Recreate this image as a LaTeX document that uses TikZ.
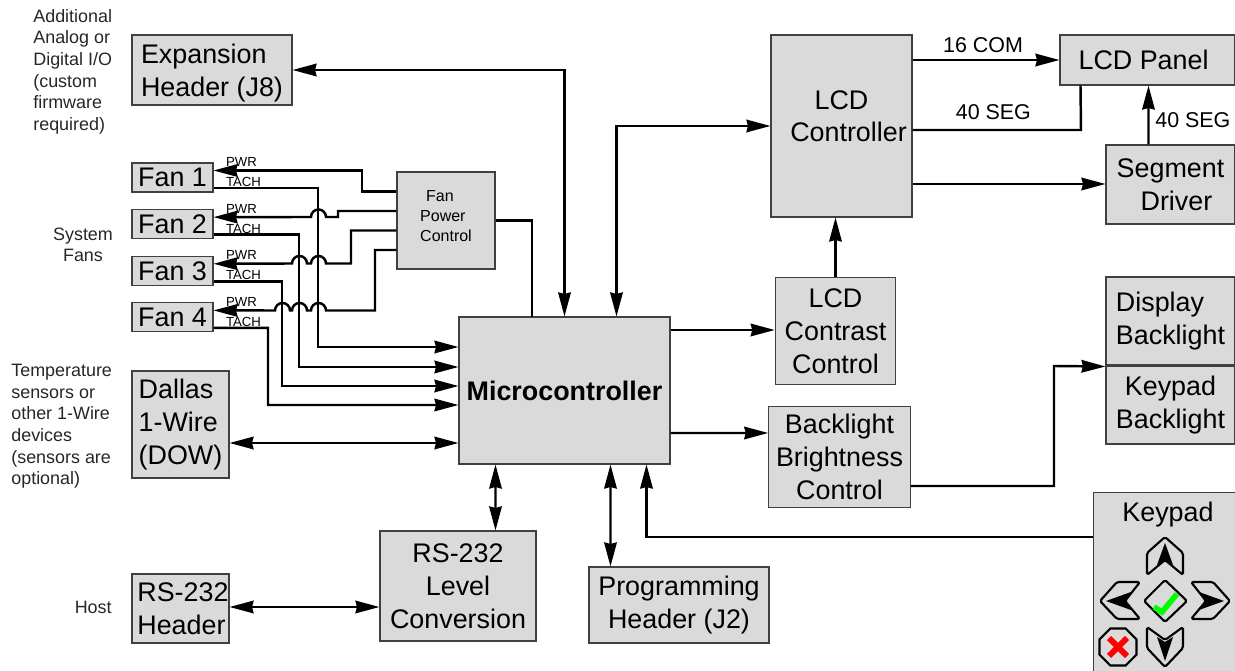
\documentclass[tikz,border=0pt]{standalone}
\usepackage{fontspec}
\setmainfont{Liberation Sans}
\usepackage{xcolor}
\usepackage{tikz}
\usetikzlibrary{positioning, arrows.meta, shapes.geometric, calc}
\definecolor{boxgray}{HTML}{DADADA}
\newcommand{\hop}{arc[start angle=0, end angle=180, radius=0.15cm]}
\tikzstyle{block} = [rectangle, draw=black!75, line width=0.6pt, fill=boxgray, align=center, inner sep=0pt, font=\fontsize{15.3}{18.7}\selectfont]
\tikzstyle{lblock} = [block, align=left]
\tikzstyle{fan} = [lblock, minimum width=1.62cm, minimum height=0.58cm]
\tikzstyle{note} = [align=left, inner sep=0pt, font=\fontsize{10.2}{12.3}\selectfont, text=black!85]
\tikzstyle{sig} = [inner sep=0pt, font=\fontsize{7.5}{9}\selectfont]
\tikzstyle{bus} = [inner sep=0pt, font=\fontsize{12.2}{14}\selectfont]
\tikzstyle{line} = [draw, line width=1.4pt, -{Stealth[length=4.8mm, width=2.5mm, inset=0.3mm]}]
\tikzstyle{both} = [draw, line width=1.4pt, {Stealth[length=4.8mm, width=2.5mm, inset=0.3mm]}-{Stealth[length=4.8mm, width=2.5mm, inset=0.3mm]}]
\tikzstyle{plain} = [draw, line width=1.4pt]
\tikzstyle{keybtn} = [draw, line width=1.2pt, rounded corners=1pt, line join=round]
\begin{document}
\begin{tikzpicture}[x=0.02cm, y=-0.02cm, node distance=0.933cm]
        \useasboundingbox (0,0) rectangle (1235,671);

        % Left column
        \node (exp) [lblock, minimum width=3.2cm, minimum height=1.4cm] at (212,70) {\rule{0pt}{14.4pt}Expansion\\Header (J8)};
        \node (fan1) [fan] at (172.5,177.5) {Fan 1};
        \node (fan2) [fan, below of=fan1] {Fan 2};
        \node (fan3) [fan, below of=fan2] {Fan 3};
        \node (fan4) [fan, below of=fan3] {Fan 4};
        \node (dow) [lblock, minimum width=1.94cm, minimum height=2.14cm] at (180.5,424.5) {Dallas\\1-Wire\\(DOW)};
        \node (rsh) [lblock, minimum width=1.94cm, minimum height=1.38cm] at (180.5,608.5) {\hspace*{2.8pt}RS-232\\\hspace*{2.8pt}Header};

        % Side notes
        \node (noteexp) [note, anchor=north west] at (33,9) {Additional\\Analog or\\Digital I/O\\(custom\\firmware\\required)};
        \node (notefan) [note, align=center] at (83,245) {System\\Fans};
        \node (notedow) [note, anchor=north west] at (11,364) {Temperature\\sensors or\\other 1-Wire\\devices\\(sensors are\\optional)};
        \node (notehost) [note, anchor=east] at (112,607) {Host};

        % Centre
        \node (fpc) [lblock, minimum width=1.96cm, minimum height=1.94cm, font=\fontsize{9.1}{11.3}\selectfont] at (446,220.5) {\hspace*{3.4pt}Fan\\Power\\Control\\[-6.2pt]\mbox{}};
        \node (micro) [block, minimum width=4.22cm, minimum height=2.94cm, font=\fontsize{15.3}{18.7}\selectfont\bfseries] at (564.5,390.5) {Microcontroller};
        \node (lvl) [block, minimum width=3.12cm, minimum height=2.2cm] at (458,586) {RS-232\\Level\\Conversion};
        \node (prog) [block, minimum width=3.6cm, minimum height=1.52cm] at (679,605) {Programming\\Header (J2)};

        % Right side
        \node (lcdc) [block, minimum width=2.82cm, minimum height=3.64cm] at (841.5,126) {LCD\\\hspace*{8pt}Controller\\[-7.5pt]\mbox{}};
        \node (contrast) [block, minimum width=2.41cm, minimum height=2.13cm] at (835.5,331) {LCD\\Contrast\\Control};
        \node (bright) [block, minimum width=2.83cm, minimum height=2.02cm] at (839.5,457) {Backlight\\Brightness\\Control};
        \node (panel) [block, minimum width=3.5cm, minimum height=1cm] at (1147.5,60) {LCD Panel\hspace*{4.5pt}};
        \node (seg) [lblock, minimum width=2.58cm, minimum height=1.58cm] at (1170.5,184.5) {Segment\\\hspace*{13.6pt}Driver};
        \node (disp) [lblock, minimum width=2.58cm, minimum height=1.76cm] at (1170.5,321) {Display\\Backlight};
        \node (kbl) [block, minimum width=2.58cm, minimum height=1.56cm, below=0pt of disp] {Keypad\\Backlight};
        \node (keypad) [block, minimum width=2.84cm, minimum height=3.6cm, anchor=north west] at (1093,492) {};
        \node (keytxt) [inner sep=0pt, font=\fontsize{15.3}{18.7}\selectfont] at (1168,515) {Keypad};

        % Fan signal labels
        \node (pwr1) [sig] at ($(fan1.east)+(28,-15.5)$) {PWR};
        \node (tach1) [sig] at ($(fan1.east)+(30,4.5)$) {TACH};
        \node (pwr2) [sig] at ($(fan2.east)+(28,-15.5)$) {PWR};
        \node (tach2) [sig] at ($(fan2.east)+(30,4.5)$) {TACH};
        \node (pwr3) [sig] at ($(fan3.east)+(28,-15.5)$) {PWR};
        \node (tach3) [sig] at ($(fan3.east)+(30,4.5)$) {TACH};
        \node (pwr4) [sig] at ($(fan4.east)+(28,-15.5)$) {PWR};
        \node (tach4) [sig] at ($(fan4.east)+(30,4.5)$) {TACH};

        % Tach lines
        \path [line] ($(fan1.east)+(0,10.5)$) -| (318,347) -- ($(micro.west)+(0,-43.5)$);
        \path [line] ($(fan2.east)+(0,10.5)$) -| (299,367) -- ($(micro.west)+(0,-23.5)$);
        \path [line] ($(fan3.east)+(0,10.5)$) -| (282,386) -- ($(micro.west)+(0,-4.5)$);
        \path [line] ($(fan4.east)+(0,10.5)$) -| (268,405) -- ($(micro.west)+(0,14.5)$);

        % Power lines, hopping over the tach lines
        \path [line] ($(fpc.west)+(0,-29)$) -- (362,191.5) -- (362,170.5) -- ($(fan1.east)+(0,-7)$);
        \path [line] ($(fpc.west)+(0,-9.5)$) -- (338,211) -- (338,217) -- (326,217) \hop -- ($(fan2.east)+(0,-7)$);
        \path [line] ($(fpc.west)+(0,10)$) -- (351,230.5) -- (351,263.5) -- (326,263.5) \hop -- (307,263.5) \hop -- ($(fan3.east)+(0,-7)$);
        \path [line] ($(fpc.west)+(0,29.5)$) -- (375,250) -- (375,310.5) -- (326,310.5) \hop -- (307,310.5) \hop -- (290,310.5) \hop -- ($(fan4.east)+(0,-7)$);

        % Microcontroller connections
        \path [plain] (fpc.east) -- (532,220.5) -- (532,317);
        \path [both] (exp.east) -| ($(micro.north west)+(106,0)$);
        \path [both] ($(micro.north west)+(158,0)$) |- (lcdc.west);
        \path [both] ($(dow.east)+(0,18.5)$) -- ($(micro.west)+(0,52.5)$);
        \path [both] ($(rsh.east)+(0,-1.5)$) -- ($(lvl.west)+(0,21)$);
        \path [both] ($(micro.south west)+(37,0)$) -- ($(lvl.north west)+(116,0)$);
        \path [both] ($(micro.south west)+(152,0)$) -- ($(prog.north west)+(22,0)$);
        \path [line] ($(keypad.north west)+(0,45)$) -| ($(micro.south west)+(188,0)$);
        \path [line] ($(micro.east)+(0,-60.5)$) -- ($(contrast.west)+(0,-1)$);
        \path [line] ($(micro.east)+(0,42.5)$) -- ($(bright.west)+(0,-24)$);

        % LCD connections
        \path [line] (contrast.north) -- (lcdc.south -| contrast.north);
        \path [line] ($(lcdc.east)+(0,-66)$) -- node[bus, above=3.5pt, pos=0.48] {16 COM} (panel.west);
        \path [plain] ($(lcdc.east)+(0,4)$) -- node[bus, above=5pt, pos=0.48] {40 SEG} (1081,130) -- ($(panel.south west)+(21,0)$);
        \path [line] ($(lcdc.east)+(0,58)$) -- ($(seg.west)+(0,-0.5)$);
        \path [line] ($(seg.north west)+(43,0)$) -- ($(panel.south west)+(89,0)$);
        \node (seglbl) [bus, anchor=west] at (1155,120) {40 SEG};
        \path [line] ($(bright.east)+(0,29)$) -- (1054,486) -- (1054,366) -- ($(disp.south west)+(0,1)$);

        % Keypad buttons
        \path [keybtn] (1147,575) -- (1147,553) -- (1165,537) -- (1183,553) -- (1183,575) -- (1165,560) -- cycle;
        \fill (1165,543) -- (1173,565) -- (1165,560) -- (1157,565) -- cycle;
        \path [keybtn] (1100,601) -- (1117,582) -- (1140,582) -- (1125,601) -- (1140,619) -- (1117,619) -- cycle;
        \fill (1106,601) -- (1131,592) -- (1125,601) -- (1131,610) -- cycle;
        \path [keybtn] (1230,601) -- (1213,582) -- (1191,582) -- (1206,601) -- (1191,619) -- (1213,619) -- cycle;
        \fill (1224,601) -- (1199,592) -- (1205,601) -- (1199,610) -- cycle;
        \path [keybtn] (1165,667) -- (1147,648) -- (1147,627) -- (1165,640) -- (1183,627) -- (1183,648) -- cycle;
        \fill (1165,661) -- (1157,637) -- (1165,642) -- (1173,637) -- cycle;
        \path [keybtn] (1165,580) -- (1187,601) -- (1165,622) -- (1144,601) -- cycle;
        \draw [green, line width=3.2pt] (1154,607) -- (1162,612) -- (1177,594);
        \node (keyx) [regular polygon, regular polygon sides=8, draw, line width=1.2pt, fill=boxgray, minimum size=0.8cm, inner sep=0pt] at (1118,647) {};
        \draw [red, line width=3.4pt] (1109,638) -- (1127,656) (1127,638) -- (1109,656);

    \end{tikzpicture}
\end{document}
